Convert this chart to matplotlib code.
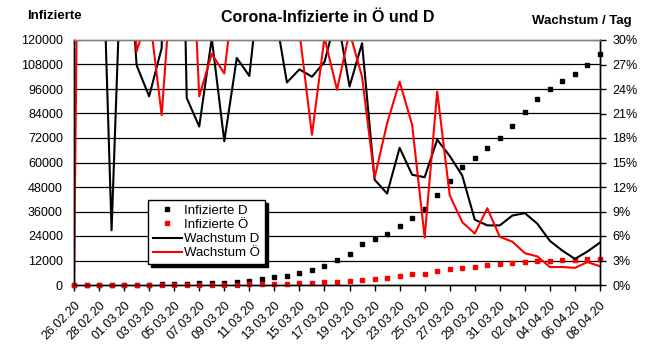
import numpy as np
import matplotlib
matplotlib.use("Agg")
import matplotlib.pyplot as plt
import pandas as pd

plt.rcParams['font.family'] = ['Liberation Sans', 'DejaVu Sans']

# ---------------- data ----------------
dates = pd.date_range("2020-02-26", "2020-04-08", freq="D")
tick_labels = [d.strftime("%d.%m.%y") for d in dates[::2]]

infizierte_d = [27, 50, 78, 83, 125, 159, 196, 254, 510, 627, 799, 1040, 1224, 1565,
                1966, 2745, 3675, 4585, 5795, 7272, 9257, 12327, 15320, 19848, 22400,
                24873, 29056, 32986, 37323, 43938, 50871, 57695, 62095, 66885, 71808,
                77872, 84794, 91159, 96092, 100123, 103374, 107663, 113296]

infizierte_oe = [2, 5, 8, 14, 14, 18, 24, 29, 41, 64, 79, 104, 131, 182, 246, 302, 504,
                 655, 860, 1018, 1332, 1646, 2140, 2690, 3040, 3640, 4474, 5283, 5588,
                 6909, 7657, 8271, 8788, 9618, 10180, 10711, 11129, 11524, 11781, 12051,
                 12297, 12639, 12942]

# daily growth in percent
wachstum_d = [59, 85, 56.5, 6.7, 50.3, 26.9, 23.1, 29.0, 100, 22.9, 19.4, 30.2, 17.6,
              27.8, 25.6, 39.6, 33.9, 24.8, 26.4, 25.5, 27.3, 33.2, 24.3, 29.6, 12.9,
              11.2, 16.8, 13.5, 13.2, 17.8, 15.8, 13.4, 8.0, 7.3, 7.3, 8.5, 8.8, 7.5,
              5.4, 4.2, 3.2, 4.1, 5.2]

wachstum_oe = [0, 150, 60, 80, 55, 28.6, 33.5, 20.8, 42, 57, 23.1, 28.3, 25.9, 38.9,
               40, 35, 60, 35, 31, 18.4, 30.3, 23.9, 31, 25.5, 13.1, 19.8, 24.9, 19.6,
               5.8, 23.7, 11.0, 7.7, 6.3, 9.4, 5.9, 5.3, 3.9, 3.5, 2.2, 2.2, 2.1, 2.8, 2.3]

left_ticks = [0, 12000, 24000, 36000, 48000, 60000, 72000, 84000, 96000, 108000, 120000]
right_ticks = [0, 3, 6, 9, 12, 15, 18, 21, 24, 27, 30]

RED = '#ff0000'

# ---------------- figure ----------------
W, H = 655, 359
fig = plt.figure(figsize=(W / 100, H / 100), dpi=100)
L, R, T, B = 74, 600, 40, 285
ax = fig.add_axes([L / W, 1 - B / H, (R - L) / W, (B - T) / H])
ax2 = ax.twinx()

x = np.arange(len(dates))

for v in left_ticks[1:-1]:
    ax.axhline(v, color='black', lw=0.9, zorder=0.5)

ax.plot(x, infizierte_d, ls='none', marker='s', ms=3.3, color='black',
        label='Infizierte D', clip_on=False, zorder=3)
ax.plot(x, infizierte_oe, ls='none', marker='s', ms=3.3, color=RED,
        label='Infizierte Ö', clip_on=False, zorder=3)
ax2.plot(x, wachstum_d, color='black', lw=1.5, label='Wachstum D')
ax2.plot(x, wachstum_oe, color=RED, lw=1.5, label='Wachstum Ö')

ax.set_xlim(0, len(dates) - 1)
ax.set_ylim(0, 120000)
ax2.set_ylim(0, 30)

ax.set_yticks(left_ticks)
ax.set_yticklabels([str(v) for v in left_ticks], fontsize=9)
ax.tick_params(axis='y', length=0, pad=8)

ax2.set_yticks(right_ticks)
ax2.set_yticklabels([f"{v}%" for v in right_ticks], fontsize=9)
ax2.tick_params(axis='y', direction='out', length=4, width=1, pad=5)

ax.set_xticks(x[::2])
ax.set_xticklabels(tick_labels, rotation=45, ha='right', va='top',
                   rotation_mode='anchor', fontsize=9)
ax.tick_params(axis='x', direction='out', length=4, width=1, pad=6)

for a in (ax, ax2):
    a.spines['top'].set_color('#808080')
    a.spines['left'].set_color('black')
    a.spines['right'].set_color('black')
    a.spines['bottom'].set_color('black')
    for s in a.spines.values():
        s.set_linewidth(1)

# legend
h1, l1 = ax.get_legend_handles_labels()
h2, l2 = ax2.get_legend_handles_labels()
leg = ax2.legend(h1 + h2, l1 + l2, loc='upper left', bbox_to_anchor=(0.141, 0.347),
                 frameon=True, fancybox=False, edgecolor='black', framealpha=1,
                 shadow={'facecolor': 'black', 'edgecolor': 'black', 'alpha': 1},
                 fontsize=9.5, borderpad=0.35, labelspacing=0.15, handlelength=2.2,
                 handletextpad=0.2, borderaxespad=0)
leg.get_frame().set_linewidth(1)

# texts
fig.text(0.5, 1 - 18 / H, "Corona-Infizierte in Ö und D", ha='center', va='center',
         fontsize=11.5, fontweight='bold')
fig.text(27 / W, 1 - 16 / H, "Infizierte", ha='left', va='center',
         fontsize=9.5, fontweight='bold')
fig.text(532 / W, 1 - 21 / H, "Wachstum / Tag", ha='left', va='center',
         fontsize=9.5, fontweight='bold')

fig.savefig("out.png", dpi=100)
